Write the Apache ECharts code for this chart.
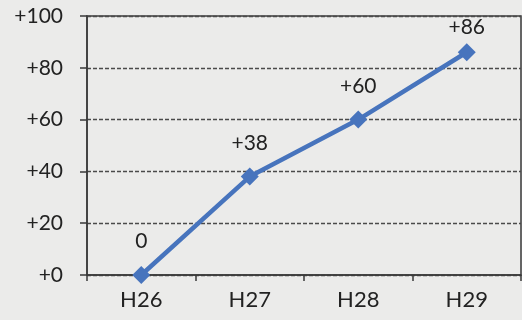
<!DOCTYPE html>
<html>
<head>
<meta charset="utf-8">
<script src="https://cdn.jsdelivr.net/npm/echarts@6/dist/echarts.min.js"></script>
<style>
  html, body { margin: 0; padding: 0; background: #ebebea; }
  #chart { width: 522px; height: 320px; }
</style>
</head>
<body>
<div id="chart"></div>
<script>
// Fiscal years and cumulative change values
const categories = ['H26', 'H27', 'H28', 'H29'];
const values = [0, 38, 60, 86];
const yTicks = [0, 20, 40, 60, 80, 100];

const signed = v => (v > 0 ? '+' + v : String(v));
const FONT = 'Lato, "Open Sans", sans-serif';

// The last point sits close to the top border, so its label hugs the marker
const seriesData = values.map((v, i) =>
  i === values.length - 1 ? { value: v, label: { distance: 6 } } : v
);

const chart = echarts.init(document.getElementById('chart'), null, { renderer: 'canvas' });
chart.setOption({
  backgroundColor: '#ebebea',
  animation: false,
  grid: {
    left: 87, right: 1, top: 16, bottom: 45,
    show: true, borderColor: '#3a3a3a', borderWidth: 1.5, backgroundColor: 'transparent'
  },
  xAxis: {
    type: 'category',
    data: categories,
    boundaryGap: true,
    axisLine: { lineStyle: { color: '#3a3a3a', width: 1.5 } },
    axisTick: { show: true, length: 6, lineStyle: { color: '#3a3a3a', width: 1.5 } },
    axisLabel: { color: '#222', fontSize: 22, fontFamily: FONT, margin: 14 }
  },
  yAxis: {
    type: 'value',
    min: yTicks[0],
    max: yTicks[yTicks.length - 1],
    interval: yTicks[1] - yTicks[0],
    axisLine: { show: true, lineStyle: { color: '#3a3a3a', width: 1.5 } },
    axisTick: { show: true, length: 7, lineStyle: { color: '#3a3a3a', width: 1.5 } },
    splitLine: { show: true, lineStyle: { color: '#4a4a4a', type: [4, 2], width: 1.4 } },
    axisLabel: {
      color: '#222', fontSize: 21, fontFamily: FONT, margin: 24,
      formatter: v => '+' + v
    }
  },
  series: [{
    type: 'line',
    data: seriesData,
    symbol: 'diamond',
    symbolSize: 18,
    itemStyle: { color: '#4774bd' },
    lineStyle: { color: '#4774bd', width: 4.5 },
    label: {
      show: true,
      position: 'top',
      distance: 14,
      color: '#222',
      fontSize: 21,
      fontFamily: FONT,
      formatter: p => signed(p.value)
    }
  }]
});
</script>
</body>
</html>
